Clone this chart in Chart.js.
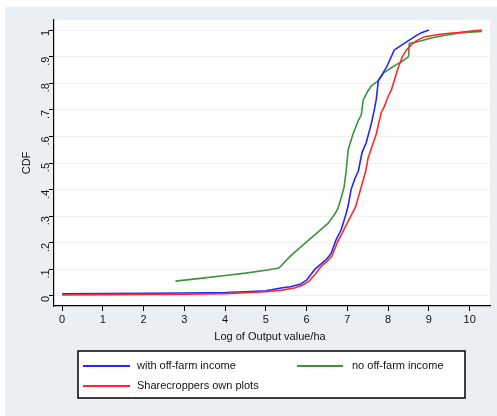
<!DOCTYPE html>
<html>
<head>
<meta charset="utf-8">
<script src="https://cdn.jsdelivr.net/npm/chart.js@4/dist/chart.umd.min.js"></script>
<style>
html,body{margin:0;padding:0;background:#ffffff;}
#wrap{position:relative;width:497px;height:416px;}
</style>
</head>
<body>
<div id="wrap"><canvas id="c" width="497" height="416"></canvas></div>
<script>
// ---- data ----
const xTicks = [0,1,2,3,4,5,6,7,8,9,10];
const yTicks = [0,0.1,0.2,0.3,0.4,0.5,0.6,0.7,0.8,0.9,1];
const seriesNames = ['with off-farm income','no off-farm income','Sharecroppers own plots'];

const withX = [0,1,2,3,4,4.5,5,5.37,5.6,5.86,6.0,6.1,6.2,6.35,6.5,6.6,6.72,6.85,6.92,6.97,7.02,7.09,7.18,7.27,7.36,7.46,7.59,7.66,7.71,7.76,7.88,7.96,8.05,8.15,8.2,8.35,8.5,8.7,8.82,9.0];
const withP = [0.008,0.009,0.01,0.011,0.013,0.016,0.02,0.03,0.035,0.045,0.06,0.08,0.1,0.12,0.14,0.16,0.21,0.25,0.285,0.31,0.34,0.40,0.44,0.47,0.54,0.575,0.65,0.70,0.74,0.81,0.84,0.86,0.89,0.925,0.93,0.945,0.96,0.98,0.99,1.0];

const noX = [2.78,3.5,4.0,4.5,5.0,5.32,5.6,5.9,6.2,6.53,6.7,6.77,6.85,6.92,6.97,7.02,7.08,7.14,7.27,7.34,7.39,7.5,7.59,7.76,7.9,8.1,8.2,8.33,8.5,8.52,8.7,9.06,9.4,9.8,10.3];
const noP = [0.056,0.068,0.077,0.086,0.097,0.105,0.15,0.19,0.23,0.274,0.31,0.33,0.37,0.41,0.47,0.55,0.58,0.61,0.66,0.68,0.737,0.77,0.79,0.81,0.84,0.86,0.87,0.88,0.90,0.95,0.955,0.97,0.98,0.99,0.995];

const shareX = [0,1,2,3,4,4.5,5,5.4,5.7,5.9,6.05,6.2,6.35,6.5,6.62,6.75,6.85,6.95,7.05,7.15,7.2,7.34,7.45,7.51,7.6,7.71,7.83,7.9,8.0,8.08,8.15,8.25,8.35,8.45,8.57,8.7,8.9,9.2,9.5,9.73,10.0,10.3];
const shareP = [0.004,0.005,0.006,0.007,0.009,0.012,0.016,0.022,0.03,0.04,0.055,0.08,0.11,0.13,0.15,0.2,0.23,0.26,0.29,0.32,0.335,0.41,0.47,0.52,0.56,0.61,0.69,0.71,0.75,0.775,0.81,0.86,0.90,0.925,0.945,0.96,0.975,0.982,0.988,0.99,0.995,1.0];

const colors = ['#2424ff','#3a953a','#ff2a2a'];

function pts(xs, ps){ return xs.map((x,i)=>({x:x, y:ps[i]})); }

const FONT = '"Liberation Sans", Arial, sans-serif';

const bgPlugin = {
  id:'bg',
  beforeDraw(chart){
    const ctx = chart.ctx, a = chart.chartArea;
    ctx.save();
    ctx.fillStyle = '#ffffff';
    ctx.fillRect(0,0,chart.width,chart.height);
    ctx.fillStyle = '#e9eff2';
    ctx.fillRect(5,7,chart.width-5,chart.height-7);
    ctx.fillStyle = '#ffffff';
    ctx.fillRect(a.left,a.top,a.right-a.left,a.bottom-a.top);
    ctx.restore();
  },
  afterDraw(chart){
    const ctx = chart.ctx;
    ctx.save();
    ctx.fillStyle = '#111';
    ctx.font = '11px ' + FONT;
    ctx.textAlign = 'center';
    ctx.textBaseline = 'middle';
    ctx.fillText('Log of Output value/ha', 270, 337);
    ctx.save();
    ctx.translate(27, 163);
    ctx.rotate(-Math.PI/2);
    ctx.fillText('CDF', 0, 0);
    ctx.restore();
    // legend box
    ctx.fillStyle = '#ffffff';
    ctx.fillRect(78,351,387,47);
    ctx.strokeStyle = '#000';
    ctx.lineWidth = 1.5;
    ctx.strokeRect(78,351,387,47);
    const items = [
      {x1:83,x2:130,tx:137,y:366,c:colors[0],t:seriesNames[0]},
      {x1:297,x2:343,tx:352,y:366,c:colors[1],t:seriesNames[1]},
      {x1:83,x2:130,tx:137,y:386,c:colors[2],t:seriesNames[2]}
    ];
    ctx.textAlign = 'left';
    items.forEach(it=>{
      ctx.strokeStyle = it.c; ctx.lineWidth = 2;
      ctx.beginPath(); ctx.moveTo(it.x1,it.y); ctx.lineTo(it.x2,it.y); ctx.stroke();
      ctx.fillStyle = '#111';
      ctx.fillText(it.t, it.tx, it.y);
    });
    ctx.restore();
  }
};

new Chart(document.getElementById('c'), {
  type:'line',
  data:{
    datasets:[
      {label:seriesNames[0], data:pts(withX,withP), borderColor:colors[0], borderWidth:1.6, pointRadius:0, tension:0, fill:false, order:2},
      {label:seriesNames[1], data:pts(noX,noP), borderColor:colors[1], borderWidth:1.6, pointRadius:0, tension:0, fill:false, order:3},
      {label:seriesNames[2], data:pts(shareX,shareP), borderColor:colors[2], borderWidth:1.6, pointRadius:0, tension:0, fill:false, order:1}
    ]
  },
  plugins:[bgPlugin],
  options:{
    responsive:false,
    animation:false,
    devicePixelRatio:1,
    layout:{padding:{left:0,top:20,right:7,bottom:0}},
    plugins:{legend:{display:false}, tooltip:{enabled:false}},
    scales:{
      x:{
        type:'linear', min:-0.2, max:10.5,
        afterBuildTicks(s){ s.ticks = xTicks.map(v=>({value:v})); },
        afterFit(s){ s.height = 110; },
        border:{display:true,color:'#000',width:1.2},
        grid:{color:'rgba(0,0,0,0)', tickColor:'#000', tickLength:5, drawOnChartArea:false},
        ticks:{color:'#111', font:{family:FONT,size:11}, padding:2, maxRotation:0, minRotation:0, callback:v=>String(v)}
      },
      y:{
        type:'linear', min:-0.0376, max:1.0376,
        afterBuildTicks(s){ s.ticks = yTicks.map(v=>({value:v})); },
        afterFit(s){ s.width = 54; },
        border:{display:true,color:'#000',width:1.2},
        grid:{color:'#eef2f4', tickColor:'#000', tickLength:5, lineWidth:1},
        ticks:{color:'#111', font:{family:FONT,size:11}, padding:3, minRotation:90, maxRotation:90,
          callback:v=>{ if (Math.abs(v)<1e-9) return '0'; if (Math.abs(v-1)<1e-9) return '1'; return '.'+Math.round(v*10); }}
      }
    }
  }
});
</script>
</body>
</html>
